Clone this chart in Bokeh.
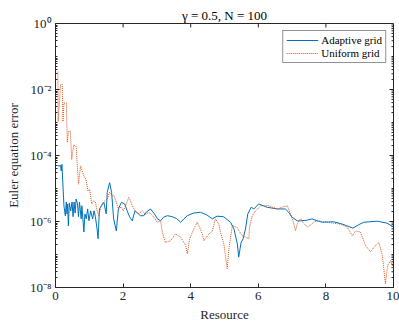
from bokeh.plotting import figure
from bokeh.models import FixedTicker, Legend, LegendItem
from bokeh.embed import file_html
from bokeh.resources import INLINE

# ---- data ----
adaptive_x = [0.07, 0.15, 0.17, 0.19, 0.25, 0.29, 0.32, 0.34, 0.36, 0.38, 0.41, 0.45, 0.49,
              0.52, 0.55, 0.58, 0.61, 0.65, 0.68, 0.71, 0.76, 0.78, 0.84, 0.87, 0.91, 0.95,
              0.99, 1.04, 1.10, 1.14, 1.18, 1.23, 1.26, 1.30, 1.36, 1.43, 1.50, 1.53, 1.60,
              1.66, 1.72, 1.80, 1.86, 1.95, 2.05, 2.12, 2.19, 2.27, 2.35, 2.43, 2.51, 2.61,
              2.69, 2.81, 2.91, 3.02, 3.11, 3.20, 3.31, 3.45, 3.58, 3.70, 3.90, 4.08, 4.29,
              4.47, 4.64, 4.78, 4.97, 5.18, 5.28, 5.38, 5.42, 5.49, 5.55, 5.62, 5.69, 5.79,
              5.87, 6.01, 6.26, 6.56, 6.80, 6.90, 7.00, 7.15, 7.25, 7.45, 7.59, 7.74, 7.89,
              8.23, 8.49, 8.80, 8.96, 9.12, 9.52, 9.81, 10.0]
adaptive_err = [4.8e-5, 5.0e-5, 3.4e-5, 5.4e-5, 3.0e-6, 1.5e-6, 3.9e-6, 1.7e-6, 3.4e-6, 7.4e-7,
                3.6e-6, 2.1e-6, 3.9e-6, 1.4e-6, 3.9e-6, 1.8e-6, 4.8e-6, 3.4e-6, 1.4e-6, 3.9e-6,
                1.2e-6, 3.0e-6, 4.8e-7, 1.7e-6, 1.2e-6, 2.4e-6, 1.05e-6, 2.1e-6, 1.2e-6, 2.1e-6,
                1.4e-6, 5.9e-7, 3.0e-7, 2.4e-6, 3.0e-6, 3.8e-6, 1.7e-6, 7.6e-6, 1.5e-5, 7.6e-6,
                1.2e-6, 5.2e-7, 2.4e-6, 3.8e-6, 3.4e-6, 2.1e-6, 1.4e-6, 1.05e-6, 2.1e-6, 1.8e-6,
                1.5e-6, 1.5e-6, 1.95e-6, 2.4e-6, 1.8e-6, 1.2e-6, 1.05e-6, 1.35e-6, 1.5e-6, 1.4e-6,
                1.23e-6, 9.5e-7, 1.5e-6, 1.8e-6, 1.9e-6, 1.6e-6, 1.2e-6, 1.45e-6, 1.4e-6, 9.5e-7,
                5.9e-7, 2.1e-7, 8.3e-8, 2.3e-7, 3.0e-7, 5.9e-7, 1.7e-6, 2.7e-6, 2.4e-6, 3.4e-6,
                2.7e-6, 2.4e-6, 2.4e-6, 1.9e-6, 1.35e-6, 1.05e-6, 1.05e-6, 1.1e-6, 1.2e-6, 1.05e-6,
                9.5e-7, 9.8e-7, 8.3e-7, 6.3e-7, 7.9e-7, 9.5e-7, 1.02e-6, 8.9e-7, 6.8e-7]

uniform_x = [0.07, 0.08, 0.15, 0.20, 0.22, 0.25, 0.32, 0.35, 0.38, 0.44, 0.48, 0.54, 0.61,
             0.68, 0.74, 0.84, 0.90, 0.96, 1.01, 1.07, 1.13, 1.18, 1.23, 1.28, 1.36, 1.42,
             1.53, 1.60, 1.68, 1.72, 1.80, 1.86, 1.95, 2.01, 2.09, 2.17, 2.25, 2.35, 2.45,
             2.57, 2.66, 2.76, 2.91, 3.01, 3.11, 3.16, 3.25, 3.40, 3.55, 3.70, 3.85, 3.90,
             3.97, 4.09, 4.19, 4.26, 4.34, 4.39, 4.47, 4.54, 4.64, 4.69, 4.73, 4.83, 4.88,
             4.98, 5.08, 5.13, 5.23, 5.36, 5.52, 5.62, 5.72, 5.74, 5.82, 5.92, 6.07, 6.31,
             6.56, 6.72, 6.86, 6.95, 7.03, 7.10, 7.16, 7.25, 7.34, 7.45, 7.54, 7.64, 7.74,
             8.04, 8.43, 8.63, 8.78, 8.88, 9.02, 9.17, 9.32, 9.47, 9.57, 9.67, 9.76, 9.83,
             9.91, 10.0]
uniform_err = [3.5e-2, 1.07e-3, 1.4e-2, 1.4e-2, 1.07e-3, 3.9e-3, 3.9e-3, 2.5e-4, 5.4e-4, 5.4e-4,
               7.6e-5, 2.1e-4, 1.9e-4, 1.35e-5, 4.8e-5, 2.4e-5, 1.9e-5, 8.5e-6, 9.5e-6, 3.4e-6,
               4.3e-6, 3.9e-6, 2.1e-6, 1.5e-6, 3.2e-6, 3.9e-6, 4.8e-6, 7.8e-6, 6.0e-6, 6.3e-6,
               3.9e-6, 2.4e-6, 2.75e-6, 2.1e-6, 3.4e-6, 5.4e-6, 3.4e-6, 2.1e-6, 1.7e-6, 2.1e-6,
               1.6e-6, 1.95e-6, 1.35e-6, 9.5e-7, 1.05e-6, 4.8e-7, 2.3e-7, 2.6e-7, 4.2e-7, 3.4e-7,
               1.9e-7, 1.05e-7, 3.0e-7, 5.9e-7, 9.5e-7, 6.8e-7, 4.2e-7, 2.6e-7, 3.4e-7, 4.2e-7,
               5.2e-7, 8.3e-7, 1.2e-6, 8.3e-7, 4.8e-7, 2.1e-7, 3.7e-8, 1.5e-7, 7.4e-7, 6.8e-7,
               3.7e-7, 3.4e-7, 3.0e-7, 6.8e-7, 1.5e-6, 2.1e-6, 3.0e-6, 3.0e-6, 2.4e-6, 2.75e-6,
               3.0e-6, 1.7e-6, 1.05e-6, 5.2e-7, 8.9e-7, 1.2e-6, 8.9e-7, 6.8e-7, 7.8e-7, 9.5e-7,
               1.05e-6, 9.5e-7, 8.3e-7, 6.8e-7, 3.7e-7, 5.2e-7, 4.8e-7, 1.9e-7, 1.2e-7, 1.9e-7,
               2.3e-7, 9.3e-8, 1.3e-8, 4.7e-8, 6.6e-8, 3.7e-8]

x_ticks = [0, 2, 4, 6, 8, 10]
y_ticks = [1e-8, 1e-6, 1e-4, 1e-2, 1e0]
y_tick_labels = ["10⁻⁸", "10⁻⁶", "10⁻⁴", "10⁻²", "10⁰"]
series_names = ["Adaptive grid", "Uniform grid"]
title_text = "γ = 0.5, N = 100"
x_label = "Resource"
y_label = "Euler equation error"

# ---- styling ----
FONT = "Liberation Serif"
AX = "#262626"
BLUE = "#0072BD"
ORANGE = "#D95319"

x_min, x_max = 0, 10
y_min, y_max = 1e-8, 1
y_minor = [m * 10.0 ** k for k in range(-8, 0) for m in range(1, 10)]

p = figure(width=399, height=324, y_axis_type="log", x_range=(x_min, x_max), y_range=(y_min, y_max),
           output_backend="svg", toolbar_location=None,
           min_border_left=55, min_border_right=6, min_border_top=23, min_border_bottom=35)
p.outline_line_color = AX
p.outline_line_width = 1
p.grid.visible = False
p.background_fill_color = "white"
p.border_fill_color = "white"

p.title.text = title_text
p.title.align = "center"
p.title.text_font = FONT
p.title.text_font_size = "13px"
p.title.text_font_style = "normal"
p.title.text_color = "black"
p.title.standoff = 2

for ax in (p.xaxis[0], p.yaxis[0]):
    ax.axis_line_color = AX
    ax.major_tick_line_color = AX
    ax.minor_tick_line_color = AX
    ax.major_tick_in = 4
    ax.major_tick_out = 0
    ax.minor_tick_in = 2
    ax.minor_tick_out = 0
    ax.major_label_text_font = FONT
    ax.major_label_text_font_size = "13px"
    ax.major_label_text_color = AX
    ax.axis_label_text_font = FONT
    ax.axis_label_text_font_size = "13px"
    ax.axis_label_text_font_style = "normal"
    ax.axis_label_text_color = AX
    ax.major_label_standoff = 4

p.xaxis.axis_label_standoff = 4
p.yaxis.axis_label_standoff = 6
p.xaxis.ticker = FixedTicker(ticks=x_ticks, minor_ticks=[])
p.yaxis.ticker = FixedTicker(ticks=y_ticks, minor_ticks=y_minor)
p.xaxis.axis_label = x_label
p.yaxis.axis_label = y_label
p.yaxis.major_label_overrides = {t: s for t, s in zip(y_ticks, y_tick_labels)}

# mirrored inward ticks on the top and right edges of the box
p.ray(x=x_ticks, y=[y_max] * len(x_ticks), length=4, length_units="screen",
      angle=-90, angle_units="deg", line_color=AX, line_width=1)
p.ray(x=[x_max] * len(y_ticks), y=y_ticks, length=4, length_units="screen",
      angle=180, angle_units="deg", line_color=AX, line_width=1)
p.ray(x=[x_max] * len(y_minor), y=y_minor, length=2, length_units="screen",
      angle=180, angle_units="deg", line_color=AX, line_width=1)

r1 = p.line(adaptive_x, adaptive_err, line_color=BLUE, line_width=1.0)
r2 = p.line(uniform_x, uniform_err, line_color=ORANGE, line_width=1.0, line_dash="1 1")

legend = Legend(items=[LegendItem(label=series_names[0], renderers=[r1]),
                       LegendItem(label=series_names[1], renderers=[r2])],
                location="top_right")
legend.label_text_font = FONT
legend.label_text_font_size = "11px"
legend.label_text_color = "black"
legend.border_line_color = AX
legend.border_line_width = 1
legend.glyph_width = 32
legend.glyph_height = 12
legend.label_height = 12
legend.spacing = 1
legend.padding = 3
legend.margin = 7
legend.label_standoff = 3
p.add_layout(legend)

open("out.html", "w").write(file_html(p, INLINE))
